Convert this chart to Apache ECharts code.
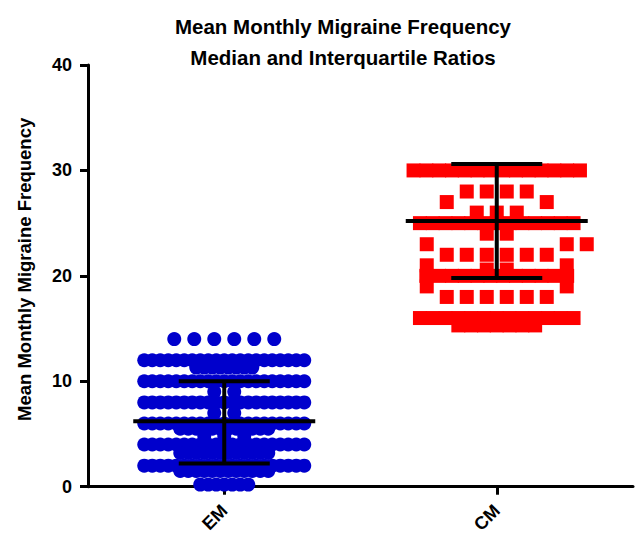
<!DOCTYPE html>
<html><head><meta charset="utf-8">
<script src="https://cdn.jsdelivr.net/npm/echarts@6/dist/echarts.min.js"></script>
<style>html,body{margin:0;padding:0;background:#fff}#c{width:635px;height:536px}</style>
</head><body><div id="c"></div>
<script>
// ---- data ----
const categories = ['EM', 'CM'];
// distinct values per group and how many patients share each value
const emLevels = [14, 12, 11.3, 10, 9, 8, 7, 6, 5.5, 4.8, 4, 3.2, 2, 1.5, 0.2];
const emCounts = [6, 21, 8, 21, 2, 21, 2, 21, 12, 3, 21, 12, 21, 12, 7];
const cmLevels = [30, 28, 26, 27, 25, 24, 22, 23, 21, 20.6, 20, 18, 19, 16, 15.3];
const cmCounts = [14, 4, 3, 2, 13, 2, 6, 3, 2, 2, 12, 6, 2, 13, 7];
const medians = [6.2, 25.2];
const q1 = [2.2, 19.8];
const q3 = [10.0, 30.6];
const yTicks = [0, 10, 20, 30, 40];

// ---- layout ----
const GRID = {left: 88, right: 2, top: 65, bottom: 48};
const W = 635, H = 536;
const X_MIN = 0, X_MAX = 4;
const pxPerX = (W - GRID.left - GRID.right) / (X_MAX - X_MIN);
const pxPerY = (H - GRID.top - GRID.bottom) / (yTicks[yTicks.length - 1] - yTicks[0]);
const catPos = categories.map((c, i) => 1 + 2 * i);
const FONT = 'Liberation Sans, Arial, Helvetica, sans-serif';

// Beeswarm: crowded rows are packed tightly, sparse rows spread out avoiding overlap
function swarm(levels, counts, denseStep) {
  const pts = [];
  const placed = [];
  const D = 14.6, STEP = 10;
  levels.forEach((v, i) => {
    const n = counts[i];
    const y = v * pxPerY;
    if (n >= 7) {
      for (let k = 0; k < n; k++) pts.push([v, (k - (n - 1) / 2) * denseStep]);
      return;
    }
    const row = [];
    const free = x => placed.every(p => Math.hypot(p[0] - x, p[1] - y) >= D) &&
                      row.every(r => Math.abs(r - x) >= D);
    let left = n;
    if (n % 2 === 1 && free(0)) { row.push(0); left--; }
    let m = STEP;
    while (left >= 2) { if (free(m) && free(-m)) { row.push(-m, m); left -= 2; } m += STEP; }
    m = STEP;
    while (left > 0) {
      if (free(m)) { row.push(m); left--; }
      else if (free(-m)) { row.push(-m); left--; }
      m += STEP;
    }
    row.forEach(x => { placed.push([x, y]); pts.push([v, x]); });
  });
  return pts;
}

const emPts = swarm(emLevels, emCounts, 8).map(p => [catPos[0] + p[1] / pxPerX, p[0]]);
const cmPts = swarm(cmLevels, cmCounts, 12.8).map(p => [catPos[1] + p[1] / pxPerX, p[0]]);
const summary = categories.map((c, i) => [catPos[i], medians[i], q1[i], q3[i]]);

const chart = echarts.init(document.getElementById('c'), null, {renderer: 'svg'});
chart.setOption({
  animation: false,
  backgroundColor: '#fff',
  title: {
    text: 'Mean Monthly Migraine Frequency\nMedian and Interquartile Ratios',
    left: 338, top: 6, textAlign: 'center',
    textStyle: {fontFamily: FONT, fontWeight: 'bold', fontSize: 20.5, lineHeight: 31, color: '#000'}
  },
  grid: GRID,
  xAxis: {
    type: 'value', min: X_MIN, max: X_MAX,
    splitLine: {show: false},
    axisLine: {show: true, lineStyle: {color: '#000', width: 3}},
    axisTick: {show: true, customValues: catPos, length: 8, lineStyle: {color: '#000', width: 3}},
    axisLabel: {
      customValues: catPos, rotate: 45, margin: 21,
      formatter: v => categories[catPos.indexOf(v)] || '',
      fontFamily: FONT, fontWeight: 'bold', fontSize: 18, color: '#000'
    }
  },
  yAxis: {
    type: 'value', min: yTicks[0], max: yTicks[yTicks.length - 1], interval: 10,
    splitLine: {show: false},
    axisLine: {show: true, lineStyle: {color: '#000', width: 3}},
    axisTick: {show: true, length: 8, lineStyle: {color: '#000', width: 3}},
    axisLabel: {margin: 16, fontFamily: FONT, fontWeight: 'bold', fontSize: 18, color: '#000'},
    name: 'Mean Monthly Migraine Frequency',
    nameLocation: 'middle', nameGap: 54,
    nameTextStyle: {fontFamily: FONT, fontWeight: 'bold', fontSize: 18.5, color: '#000', padding: [0, 0, 0, 13]}
  },
  series: [
    {type: 'scatter', data: emPts, symbol: 'circle', symbolSize: 14,
     itemStyle: {color: '#0000cc', opacity: 1}, silent: true, z: 2},
    {type: 'scatter', data: cmPts, symbol: 'rect', symbolSize: 14,
     itemStyle: {color: '#ff0000', opacity: 1}, silent: true, z: 2},
    {type: 'custom', data: summary, z: 5, silent: true,
     renderItem: (params, api) => {
       const cx = api.value(0);
       const m = api.coord([cx, api.value(1)]);
       const lo = api.coord([cx, api.value(2)]);
       const hi = api.coord([cx, api.value(3)]);
       const style = {stroke: '#000', lineWidth: 4};
       const hw = 91, cw = 45.5;
       return {type: 'group', children: [
         {type: 'line', shape: {x1: m[0] - hw, y1: m[1], x2: m[0] + hw, y2: m[1]}, style},
         {type: 'line', shape: {x1: lo[0], y1: lo[1], x2: hi[0], y2: hi[1]}, style},
         {type: 'line', shape: {x1: lo[0] - cw, y1: lo[1], x2: lo[0] + cw, y2: lo[1]}, style},
         {type: 'line', shape: {x1: hi[0] - cw, y1: hi[1], x2: hi[0] + cw, y2: hi[1]}, style}
       ]};
     }}
  ]
});
</script></body></html>
